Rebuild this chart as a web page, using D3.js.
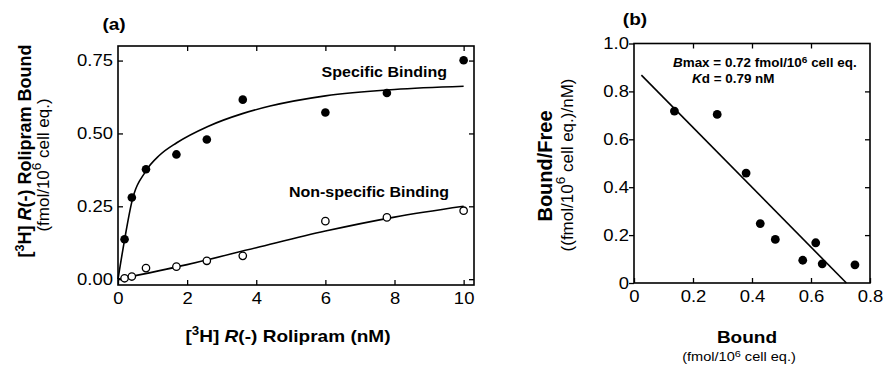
<!DOCTYPE html>
<html>
<head>
<meta charset="utf-8">
<script src="https://cdn.jsdelivr.net/npm/d3@7/dist/d3.min.js"></script>
<style>
  body { margin: 0; background: #fff; }
  svg { display: block; font-family: "Liberation Sans", Arial, Helvetica, sans-serif; }
</style>
</head>
<body>
<div id="chart"></div>
<script>
// panel (a): saturation binding
var concentration = [0.19, 0.40, 0.81, 1.69, 2.57, 3.61, 6.0, 7.78, 10.0];
var specificBound = [0.137, 0.280, 0.377, 0.428, 0.479, 0.616, 0.572, 0.639, 0.751];
var nonSpecificBound = [0.003, 0.009, 0.038, 0.043, 0.063, 0.080, 0.199, 0.212, 0.235];
var specificFitX = [0, 0.19, 0.4, 0.8, 1.2, 1.7, 2.6, 3.6, 4.4, 6, 8, 10];
var specificFitY = [0, 0.135, 0.265, 0.37, 0.425, 0.468, 0.524, 0.568, 0.594, 0.629, 0.651, 0.662];
var nonSpecificFitX = [0, 2, 4, 6, 8, 10];
var nonSpecificFitY = [0, 0.05, 0.108, 0.165, 0.213, 0.25];
var ticksAX = [0, 2, 4, 6, 8, 10];
var labelsAX = ["0", "2", "4", "6", "8", "10"];
var ticksAY = [0, 0.25, 0.5, 0.75];
var labelsAY = ["0.00", "0.25", "0.50", "0.75"];

// panel (b): Scatchard plot
var boundB = [0.137, 0.282, 0.380, 0.428, 0.479, 0.572, 0.616, 0.638, 0.749];
var boundFreeB = [0.718, 0.704, 0.459, 0.248, 0.182, 0.095, 0.168, 0.080, 0.076];
var scatchardFitX = [0.025, 0.72];
var scatchardFitY = [0.868, 0];
var ticksBX = [0, 0.2, 0.4, 0.6, 0.8];
var labelsBX = ["0", "0.2", "0.4", "0.6", "0.8"];
var ticksBY = [0, 0.2, 0.4, 0.6, 0.8, 1.0];
var labelsBY = ["0", "0.2", "0.4", "0.6", "0.8", "1.0"];

var width = 884, height = 367;
var stretch = 1.12;

var svg = d3.select("#chart").append("svg")
	.attr("width", width)
	.attr("height", height);

svg.append("rect").attr("width", width).attr("height", height).attr("fill", "#fff");

// text made of segments: [string, style] with style "", "i" or "sup"
function richText(parent, segs, opts){
	var size = opts.size;
	var t = parent.append("text")
		.attr("font-size", size)
		.attr("font-weight", opts.weight || "normal")
		.attr("text-anchor", opts.anchor || "middle")
		.attr("fill", "#000");
	var shift = 0;
	segs.forEach(function(s){
		var sp = t.append("tspan").text(s[0]);
		var want = s[1] == "sup" ? -size * (opts.supRaise || 0.4) : 0;
		if(want != shift){
			sp.attr("dy", want - shift);
			shift = want;
		}
		if(s[1] == "sup") sp.attr("font-size", size * (opts.supSize || 0.7));
		if(s[1] == "i") sp.attr("font-style", "italic");
	});
	if(opts.rotate){
		t.attr("transform", "translate(" + opts.x + "," + opts.y + ") rotate(-90)");
	} else {
		t.attr("transform", "translate(" + opts.x + "," + opts.y + ") scale(" + stretch + ",1)");
	}
	return t;
}

function drawFrame(g, x, y, cfg){
	var left = x.range()[0], right = x.range()[1];
	var top = y.range()[1], bottom = y.range()[0];

	var bottomAxis = g.append("g")
		.attr("transform", "translate(0," + bottom + ")")
		.call(d3.axisBottom(x).tickValues(cfg.xTicks).tickSizeInner(-5).tickSizeOuter(0)
			.tickPadding(cfg.xPad).tickFormat(function(d, i){ return cfg.xLabels[i]; }));

	var leftAxis = g.append("g")
		.attr("transform", "translate(" + left + ",0)")
		.call(d3.axisLeft(y).tickValues(cfg.yTicks).tickSizeInner(cfg.leftTick).tickSizeOuter(0)
			.tickPadding(cfg.yPad).tickFormat(function(d, i){ return cfg.yLabels[i]; }));

	g.append("g")
		.attr("transform", "translate(0," + top + ")")
		.call(d3.axisTop(x).tickValues(cfg.topTicks).tickSizeInner(-5).tickSizeOuter(0).tickFormat(""));

	g.append("g")
		.attr("transform", "translate(" + right + ",0)")
		.call(d3.axisRight(y).tickValues(cfg.rightTicks).tickSizeInner(-5).tickSizeOuter(0).tickFormat(""));

	g.selectAll(".domain").remove();
	g.selectAll(".tick line").attr("stroke", "#000").attr("stroke-width", 1.3);
	g.selectAll(".tick text")
		.attr("font-family", null)
		.attr("font-size", 16.5)
		.attr("fill", "#000");
	bottomAxis.selectAll(".tick text").attr("transform", "scale(" + stretch + ",1)");
	leftAxis.selectAll(".tick text").each(function(){
		var t = d3.select(this);
		t.attr("x", +t.attr("x") / stretch).attr("transform", "scale(" + stretch + ",1)");
	});

	g.append("rect")
		.attr("x", left).attr("y", top)
		.attr("width", right - left).attr("height", bottom - top)
		.attr("fill", "none").attr("stroke", "#000").attr("stroke-width", 1.6);
}

// ---------- panel (a) ----------
var xA = d3.scaleLinear().domain([0, 10.3]).range([118, 474]);
var yA = d3.scaleLinear().domain([-0.02, 0.80]).range([285, 46]);
var gA = svg.append("g");

drawFrame(gA, xA, yA, {
	xTicks: ticksAX, xLabels: labelsAX, yTicks: ticksAY, yLabels: labelsAY,
	topTicks: ticksAX.slice(1), rightTicks: ticksAY,
	leftTick: -5, xPad: 7, yPad: 5
});

var fitLine = d3.line().curve(d3.curveMonotoneX);

gA.append("path")
	.attr("d", fitLine(specificFitX.map(function(d, i){ return [xA(d), yA(specificFitY[i])]; })))
	.attr("fill", "none").attr("stroke", "#000").attr("stroke-width", 1.6);

gA.append("path")
	.attr("d", fitLine(nonSpecificFitX.map(function(d, i){ return [xA(d), yA(nonSpecificFitY[i])]; })))
	.attr("fill", "none").attr("stroke", "#000").attr("stroke-width", 1.6);

gA.selectAll("circle.specific")
	.data(concentration)
	.enter()
	.append("circle")
	.attr("class", "specific")
	.attr("cx", function(d){ return xA(d); })
	.attr("cy", function(d, i){ return yA(specificBound[i]); })
	.attr("r", 4.3)
	.attr("fill", "#000");

gA.selectAll("circle.nonspecific")
	.data(concentration)
	.enter()
	.append("circle")
	.attr("class", "nonspecific")
	.attr("cx", function(d){ return xA(d); })
	.attr("cy", function(d, i){ return yA(nonSpecificBound[i]); })
	.attr("r", 3.7)
	.attr("fill", "#fff")
	.attr("stroke", "#000")
	.attr("stroke-width", 1.3);

richText(gA, [["Specific Binding", ""]], {size: 14.3, weight: "bold", anchor: "end", x: 447, y: 77});
richText(gA, [["Non-specific Binding", ""]], {size: 14.3, weight: "bold", anchor: "end", x: 449, y: 197});
richText(gA, [["(a)", ""]], {size: 17, weight: "bold", x: 114, y: 30});

richText(gA, [["[", ""], ["3", "sup"], ["H] ", ""], ["R", "i"], ["(-) Rolipram (nM)", ""]],
	{size: 17, weight: "bold", x: 288, y: 342});
richText(gA, [["[", ""], ["3", "sup"], ["H] ", ""], ["R", "i"], ["(-) Rolipram Bound", ""]],
	{size: 18, weight: "bold", rotate: true, x: 31, y: 151});
richText(gA, [["(fmol/10", ""], ["6", "sup"], [" cell eq.)", ""]],
	{size: 17, rotate: true, supSize: 0.8, supRaise: 0.45, x: 49, y: 165});

// ---------- panel (b) ----------
var xB = d3.scaleLinear().domain([0, 0.8]).range([634, 870]);
var yB = d3.scaleLinear().domain([0, 1]).range([283, 43.5]);
var gB = svg.append("g");

drawFrame(gB, xB, yB, {
	xTicks: ticksBX, xLabels: labelsBX, yTicks: ticksBY, yLabels: labelsBY,
	topTicks: ticksBX.slice(1, 4), rightTicks: ticksBY.slice(1, 5),
	leftTick: 5, xPad: 7, yPad: 0
});

gB.append("path")
	.attr("d", d3.line()(scatchardFitX.map(function(d, i){ return [xB(d), yB(scatchardFitY[i])]; })))
	.attr("fill", "none").attr("stroke", "#000").attr("stroke-width", 1.6);

gB.selectAll("circle")
	.data(boundB)
	.enter()
	.append("circle")
	.attr("cx", function(d){ return xB(d); })
	.attr("cy", function(d, i){ return yB(boundFreeB[i]); })
	.attr("r", 4.4)
	.attr("fill", "#000");

richText(gB, [["B", "i"], ["max = 0.72 fmol/10", ""], ["6", "sup"], [" cell eq.", ""]],
	{size: 12, weight: "bold", anchor: "start", supRaise: 0.3, supSize: 0.75, x: 673, y: 67});
richText(gB, [["K", "i"], ["d = 0.79 nM", ""]],
	{size: 12, weight: "bold", anchor: "start", x: 692, y: 83});
richText(gB, [["(b)", ""]], {size: 17, weight: "bold", x: 635, y: 25});

richText(gB, [["Bound", ""]], {size: 17, weight: "bold", x: 747, y: 343});
richText(gB, [["(fmol/10", ""], ["6", "sup"], [" cell eq.)", ""]],
	{size: 13, supRaise: 0.3, supSize: 0.75, x: 739, y: 361});
richText(gB, [["Bound/Free", ""]], {size: 20, weight: "bold", rotate: true, x: 552, y: 166});
richText(gB, [["((fmol/10", ""], ["6", "sup"], [" cell eq.)/nM)", ""]],
	{size: 17, rotate: true, supSize: 0.8, supRaise: 0.45, x: 573, y: 165});
</script>
</body>
</html>
